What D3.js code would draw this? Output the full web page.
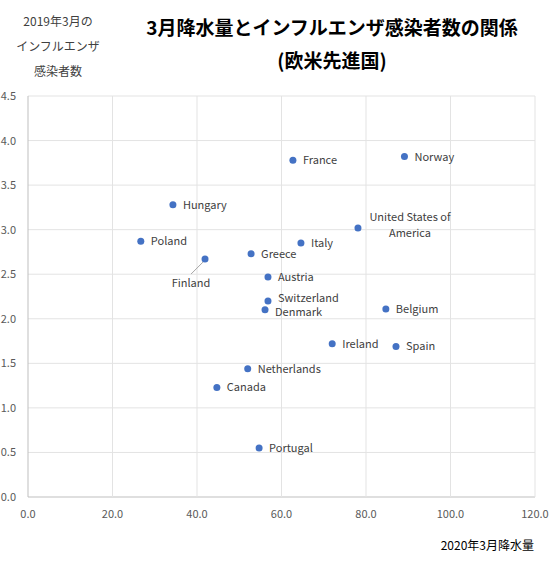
<!DOCTYPE html><html><head><meta charset="utf-8"><script src="https://cdn.jsdelivr.net/npm/d3@7"></script>
<style>body{margin:0;background:#fff}text{font-family:"Noto Sans CJK JP","Noto Sans",sans-serif}</style></head><body><svg id="c" width="555" height="565"></svg><script>
const countries=["France","Norway","Hungary","United States of America","Poland","Italy","Greece","Finland","Austria","Switzerland","Denmark","Belgium","Ireland","Spain","Netherlands","Canada","Portugal"];
const rain=[62.7,89.1,34.3,78.1,26.7,64.6,52.8,41.9,56.8,56.8,56.1,84.7,72.0,87.1,52.0,44.7,54.7];
const flu=[3.78,3.82,3.28,3.02,2.87,2.85,2.73,2.67,2.47,2.20,2.10,2.11,1.72,1.69,1.44,1.23,0.55];
const xTicks=[0,20,40,60,80,100,120];
const yTicks=[0,0.5,1,1.5,2,2.5,3,3.5,4,4.5];
const svg=d3.select("#c");
const x=d3.scaleLinear().domain([0,120]).range([28,535]);
const y=d3.scaleLinear().domain([0,4.5]).range([497,96]);
svg.append("g").selectAll("line").data(yTicks).join("line").attr("x1",28).attr("x2",535).attr("y1",d=>y(d)).attr("y2",d=>y(d)).attr("stroke",d=>d===0?"#bfbfbf":"#e3e3e3");
svg.append("g").selectAll("line").data(xTicks).join("line").attr("y1",96).attr("y2",497).attr("x1",d=>x(d)).attr("x2",d=>x(d)).attr("stroke",d=>d===0?"#bfbfbf":"#e3e3e3");
svg.append("g").selectAll("text").data(yTicks).join("text").attr("x",16).attr("y",d=>y(d)+4).attr("text-anchor","end").attr("font-size",11).attr("fill","#595959").text(d=>d.toFixed(1));
svg.append("g").selectAll("text").data(xTicks).join("text").attr("x",d=>x(d)).attr("y",518).attr("text-anchor","middle").attr("font-size",11).attr("fill","#595959").text(d=>d.toFixed(1));
const data=countries.map((c,i)=>({c,x:rain[i],y:flu[i]}));
svg.append("g").selectAll("circle").data(data).join("circle").attr("cx",d=>x(d.x)).attr("cy",d=>y(d.y)).attr("r",3.5).attr("fill","#4472c4");
const lab=svg.append("g").attr("font-size",11).attr("fill","#404040");
data.forEach(d=>{
  const px=x(d.x),py=y(d.y);
  if(d.c==="Finland"){
    svg.append("line").attr("x1",px-2).attr("y1",py+3).attr("x2",px-14).attr("y2",py+15).attr("stroke","#a6a6a6");
    lab.append("text").attr("x",px-14).attr("y",py+28).attr("text-anchor","middle").text(d.c);
  } else if(d.c==="United States of America"){
    const t=lab.append("text").attr("text-anchor","middle");
    t.append("tspan").attr("x",px+52).attr("y",py-7).text("United States of");
    t.append("tspan").attr("x",px+52).attr("y",py+9).text("America");
  } else {
    const dy=d.c==="Switzerland"?1:d.c==="Denmark"?6:4;
    lab.append("text").attr("x",px+10).attr("y",py+dy).text(d.c);
  }
});
svg.append("text").attr("x",332).attr("y",35).attr("text-anchor","middle").attr("font-size",19).attr("font-weight","bold").attr("fill","#000").text("3月降水量とインフルエンザ感染者数の関係");
svg.append("text").attr("x",332).attr("y",68).attr("text-anchor","middle").attr("font-size",19).attr("font-weight","bold").attr("fill","#000").text("(欧米先進国)");
[["2019年3月の",26],["インフルエンザ",51],["感染者数",76]].forEach(([t,yy])=>svg.append("text").attr("x",58).attr("y",yy).attr("text-anchor","middle").attr("font-size",12).attr("fill","#404040").text(t));
svg.append("text").attr("x",534).attr("y",550).attr("text-anchor","end").attr("font-size",12).attr("fill","#000").text("2020年3月降水量");
</script></body></html>
